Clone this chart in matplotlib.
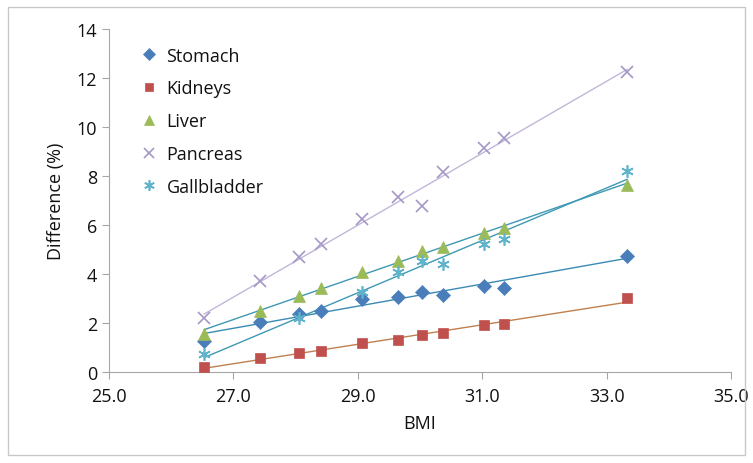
import numpy as np
import matplotlib
matplotlib.use("Agg")
import matplotlib.pyplot as plt
from matplotlib.patches import Rectangle

plt.rcParams['font.family'] = ['Open Sans', 'DejaVu Sans']

bmi = [26.53, 27.43, 28.05, 28.41, 29.06, 29.65, 30.04, 30.37, 31.03, 31.35, 33.33]
stomach = [1.28, 2.05, 2.37, 2.50, 2.99, 3.05, 3.28, 3.16, 3.52, 3.43, 4.75]
kidneys = [0.22, 0.56, 0.78, 0.87, 1.18, 1.31, 1.52, 1.58, 1.93, 1.96, 3.02]
liver = [1.55, 2.48, 3.12, 3.42, 4.09, 4.54, 4.93, 5.09, 5.67, 5.88, 7.63]
pancreas = [2.19, 3.73, 4.68, 5.22, 6.24, 7.16, 6.79, 8.15, 9.13, 9.55, 12.26]
gb_bmi = [26.53, 28.05, 29.06, 29.65, 30.04, 30.37, 31.03, 31.35, 33.33]
gallbladder = [0.73, 2.19, 3.28, 4.07, 4.54, 4.41, 5.22, 5.43, 8.22]

x_ticks = [25.0, 27.0, 29.0, 31.0, 33.0, 35.0]
y_ticks = [0, 2, 4, 6, 8, 10, 12, 14]

series = [
    ("Stomach", bmi, stomach, "D", "#4A7EBB", "#3A8AB5", 7),
    ("Kidneys", bmi, kidneys, "s", "#C0504D", "#C0804D", 7.5),
    ("Liver", bmi, liver, "^", "#9BBB59", "#3F98B3", 8),
    ("Pancreas", bmi, pancreas, "x", "#A597C6", "#C2B6D9", 9),
    ("Gallbladder", gb_bmi, gallbladder, (6, 2, 0), "#5FB4CC", "#3F98B3", 9),
]

fig = plt.figure(figsize=(7.53, 4.64), dpi=100)
ax = fig.add_axes([109/753, 1 - 373/464, (731 - 109)/753, 343/464])

for name, xs, ys, mk, mc, lc, ms in series:
    xs = np.array(xs); ys = np.array(ys)
    k, b = np.polyfit(xs, ys, 1)
    xl = np.array([xs.min(), xs.max()])
    ax.plot(xl, k*xl + b, color=lc, lw=1.0, zorder=2)
    mew = 1.2 if mk in ("x",) or isinstance(mk, tuple) else 0.5
    ax.plot(xs, ys, linestyle='none', marker=mk, color=mc, markersize=ms,
            markeredgewidth=mew, label=name, zorder=3)

ax.set_xlim(25, 35)
ax.set_ylim(0, 14)
ax.set_xticks(x_ticks)
ax.set_xticklabels([f"{v:.1f}" for v in x_ticks])
ax.set_yticks(y_ticks)
for s in ("top", "right"):
    ax.spines[s].set_visible(False)
for s in ("left", "bottom"):
    ax.spines[s].set_color("#A6A6A6")
ax.tick_params(axis='both', colors="#A6A6A6", labelcolor="#111111",
               labelsize=13, length=5, direction='out')
ax.tick_params(axis='x', pad=6)
ax.set_xlabel("BMI", fontsize=13, color="#111111", labelpad=6)
ax.set_ylabel("Difference (%)", fontsize=13, color="#111111", labelpad=8)

leg = ax.legend(loc='upper left', bbox_to_anchor=(0.04, 0.97), frameon=False,
                fontsize=13, labelspacing=0.82, handlelength=0.9, handletextpad=0.5,
                borderaxespad=0, markerscale=0.85)
for t in leg.get_texts():
    t.set_color("#111111")

fig.patches.append(Rectangle((8/753, 8/464), 737/753, 448/464, transform=fig.transFigure,
                             fill=False, edgecolor="#C8C8C8", lw=1))

fig.savefig("out.png", dpi=100)
